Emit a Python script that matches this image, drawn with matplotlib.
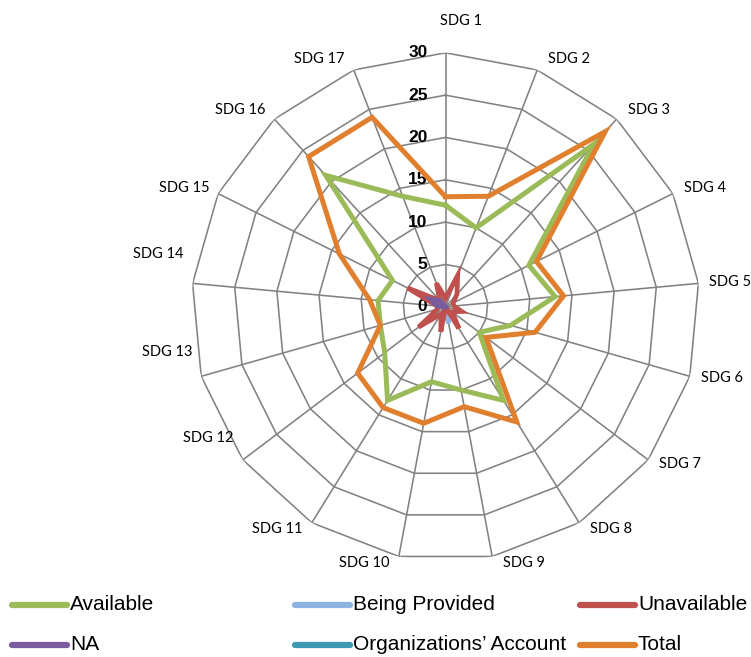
import numpy as np
import matplotlib.pyplot as plt
from matplotlib.lines import Line2D

# Counts per goal for each reporting status
categories = ["SDG 1", "SDG 2", "SDG 3", "SDG 4", "SDG 5", "SDG 6", "SDG 7", "SDG 8", "SDG 9",
              "SDG 10", "SDG 11", "SDG 12", "SDG 13", "SDG 14", "SDG 15", "SDG 16", "SDG 17"]
available = [12, 10, 26, 11, 13, 8, 5, 13, 10, 9, 13, 9, 8, 8, 7, 21, 14]
being_provided = [0, 0, 0, 0, 0, 0, 0, 0, 2, 0, 0, 0, 0, 0, 0, 0, 0]
unavailable = [1, 4, 2, 1, 1, 2, 1, 3, 0, 3, 1, 4, 1, 1, 5, 1, 3]
not_applicable = [0, 0, 0, 0, 0, 0, 0, 0, 0, 0, 0, 0, 0, 1, 2, 1, 0]
org_account = [0, 0, 0, 0, 0, 0, 0, 0, 0, 0, 0, 0, 0, 0, 0, 0, 0]
total = [13, 14, 28, 12, 14, 11, 6, 16, 12, 14, 14, 13, 8, 9, 14, 24, 24]
r_ticks = [0, 5, 10, 15, 20, 25, 30]

series = [
    ("Available", available, "#9BBB59", 3.6),
    ("Being Provided", being_provided, "#8DB3E2", 3.4),
    ("Unavailable", unavailable, "#C0504D", 3.4),
    ("NA", not_applicable, "#7A5C9E", 3.4),
    ("Organizations\u2019 Account", org_account, "#3E9AB3", 3.4),
    ("Total", total, "#E0802F", 3.6),
]

GRID = "#828282"
W, H = 751, 657
fig = plt.figure(figsize=(W / 100, H / 100), dpi=100)

cx, cy, rad = 445.5, 306.8, 254
ax = fig.add_axes([(cx - rad) / W, 1 - (cy + rad) / H, 2 * rad / W, 2 * rad / H],
                  projection="polar")
ax.set_theta_zero_location("N")
ax.set_theta_direction(-1)
ax.set_ylim(0, r_ticks[-1])
ax.grid(False)
ax.spines["polar"].set_visible(False)
ax.set_xticks([])
ax.set_yticks([])
ax.patch.set_alpha(0)

n = len(categories)
theta = np.arange(n) * 2 * np.pi / n
theta_closed = np.append(theta, theta[0])

# polygon web
for r in r_ticks[1:]:
    ax.plot(theta_closed, [r] * (n + 1), color=GRID, lw=1.15, zorder=1)
for t in theta:
    ax.plot([t, t], [0, r_ticks[-1]], color=GRID, lw=1.15, zorder=1)

for v in r_ticks:
    ax.annotate(str(v), xy=(0, v), xytext=(-18, 0), textcoords="offset pixels",
                ha="right", va="center", fontsize=12.5, fontweight="bold",
                family="Liberation Sans", zorder=5)

# the three lower-left labels sit a little higher than their spokes
lift = {"SDG 12": 26, "SDG 13": 26, "SDG 14": 28}
for t, name in zip(theta, categories):
    s, c = np.sin(t), np.cos(t)
    if s > 0.1:
        ha, dx = "left", 11
    elif s < -0.1:
        ha, dx = "right", -9
    else:
        ha, dx = "center", 16
    if abs(s) <= 0.1:
        dy = 32
    elif c > 0:
        dy = 12 * c
    else:
        dy = 7 * c
    dy += lift.get(name, 0)
    ax.annotate(name, xy=(t, r_ticks[-1]), xytext=(dx, dy), textcoords="offset pixels",
                ha=ha, va="center", fontsize=10.5, family="Lato")

for z, (label, vals, color, lw) in enumerate(series):
    ax.plot(theta_closed, list(vals) + [vals[0]], color=color, lw=lw,
            solid_joinstyle="miter", zorder=3 + z)

# legend, three columns by two rows
cols = [12, 295, 580]
rows = [605, 645]
for i, (label, vals, color, lw) in enumerate(series):
    x0 = cols[i % 3]
    y0 = rows[i // 3]
    fig.add_artist(Line2D([x0 / W, (x0 + 55) / W], [1 - y0 / H, 1 - y0 / H],
                          color=color, lw=4.5, solid_capstyle="round"))
    fig.text((x0 + 58) / W, 1 - y0 / H, label, ha="left", va="center",
             fontsize=15, family="Liberation Sans")

fig.savefig("out.png", dpi=100)
